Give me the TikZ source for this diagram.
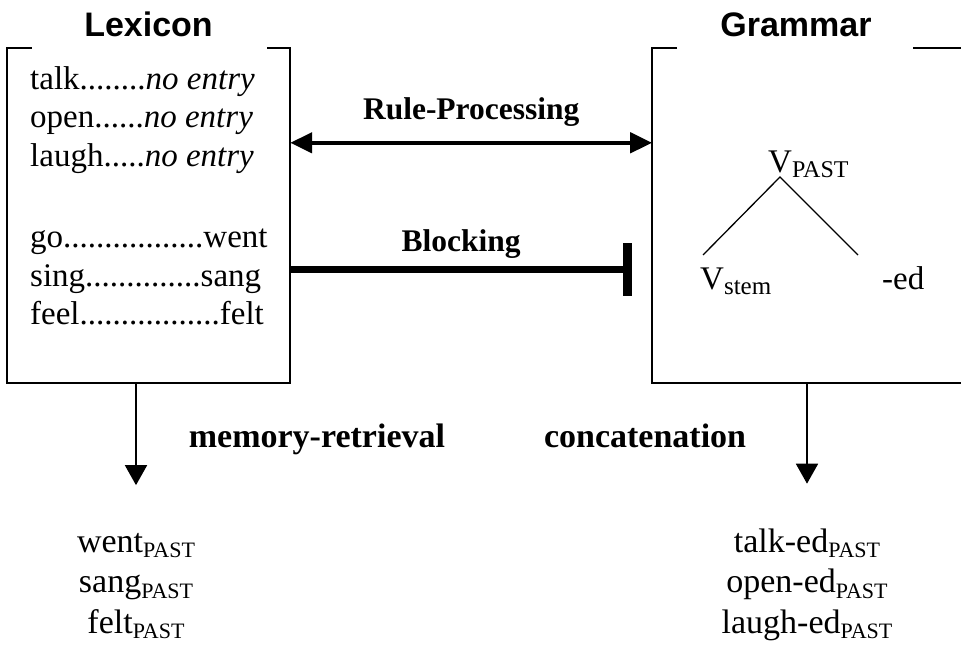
\documentclass[tikz,border=0pt]{standalone}
\usepackage{fontspec}
\setmainfont{Liberation Serif}
\newfontfamily\headfont{Liberation Sans}
\usetikzlibrary{positioning,arrows.meta,calc}

\newcommand{\subtag}[2][22]{\raisebox{-0.15em}{\fontsize{#1}{#1}\selectfont #2}}

\begin{document}
\begin{tikzpicture}[x=1pt, y=1pt,
    frame/.style={minimum width=283pt, minimum height=335pt, inner sep=0pt},
    outline/.style={line width=2pt},
    head/.style={font=\headfont\bfseries\fontsize{34}{34}\selectfont, inner sep=0pt},
    entry/.style={font=\fontsize{33}{40}\selectfont, inner sep=0pt, anchor=base west},
    lbl/.style={font=\bfseries\fontsize{31.5}{36}\selectfont, inner sep=0pt},
    outlbl/.style={font=\bfseries\fontsize{34}{40}\selectfont, inner sep=0pt},
    form/.style={font=\fontsize{34}{40}\selectfont, inner sep=0pt, anchor=base},
    rule/.style={{Triangle[length=22pt,width=20pt]}-{Triangle[length=22pt,width=20pt]}, line width=4.5pt},
    block/.style={-{Bar[width=53pt,line width=9pt]}, line width=7pt},
    route/.style={-{Triangle[length=20pt,width=22pt]}, line width=1.8pt},
    branch/.style={line width=1.3pt},
]
\clip (0,0) rectangle (961,652);

% the two components
\node[frame] (lex) at (148.5,436.5) {};
\node[frame, minimum width=313pt, right=362pt of lex] (gram) {};
\draw[outline] ([xshift=25]lex.north west) -- (lex.north west) -- (lex.south west)
    -- (lex.south east) -- (lex.north east) -- ([xshift=-23]lex.north east);
\draw[outline] ([xshift=25]gram.north west) -- (gram.north west) -- (gram.south west)
    -- (gram.south east) -- (gram.north east) -- ([xshift=-53]gram.north east);
\node[head, above=11pt of lex.north] (lexttl) {Lexicon};
\node[head, above right=11pt and 68pt of gram.north west] (gramttl) {Grammar};

% lexical entries
\node[entry] (talk) at (30,562) {talk........\textit{no entry}};
\node[entry] (open) at (30,524) {open......\textit{no entry}};
\node[entry] (laugh) at (30,485) {laugh.....\textit{no entry}};
\node[entry] (go) at (30,404) {go.................went};
\node[entry] (sing) at (30,365) {sing..............sang};
\node[entry] (feel) at (30,327) {feel.................felt};

% past-tense rule
\node[entry] (vp) at (768,479) {V\subtag[24]{PAST}};
\node[entry] (vs) at (700,362) {V\subtag[25]{stem}};
\node[entry] (ed) at (882,362) {-ed};
\draw[branch] ([xshift=3,yshift=35]vs.base west) -- ([xshift=12,yshift=-4]vp.base west)
    -- ([xshift=-24,yshift=35]ed.base west);

% interaction between the components
\draw[rule] ([yshift=-95]lex.north east) -- ([yshift=-95]gram.north west)
    node[lbl, midway, above=14pt] {Rule-Processing};
\draw[block] ([yshift=-222]lex.north east) -- ([xshift=-20,yshift=-222]gram.north west)
    node[lbl, midway, above=8pt] {Blocking};

% outputs
\foreach \w [count=\i] in {went,sang,felt}
    \node[form] (old\i) at (136,{140-40.5*\i}) {\w\subtag{PAST}};
\foreach \w [count=\i] in {talk,open,laugh}
    \node[form] (new\i) at (807,{140-40.5*\i}) {\w-ed\subtag{PAST}};
\draw[route] (lex.south -| old1) -- ([yshift=48]old1.north)
    node[outlbl, midway, right=52pt, yshift=-5pt] {memory-retrieval};
\draw[route] (gram.south -| new1) -- ([yshift=45]new1.north)
    node[outlbl, midway, left=60pt, yshift=-2pt] {concatenation};
\end{tikzpicture}
\end{document}
